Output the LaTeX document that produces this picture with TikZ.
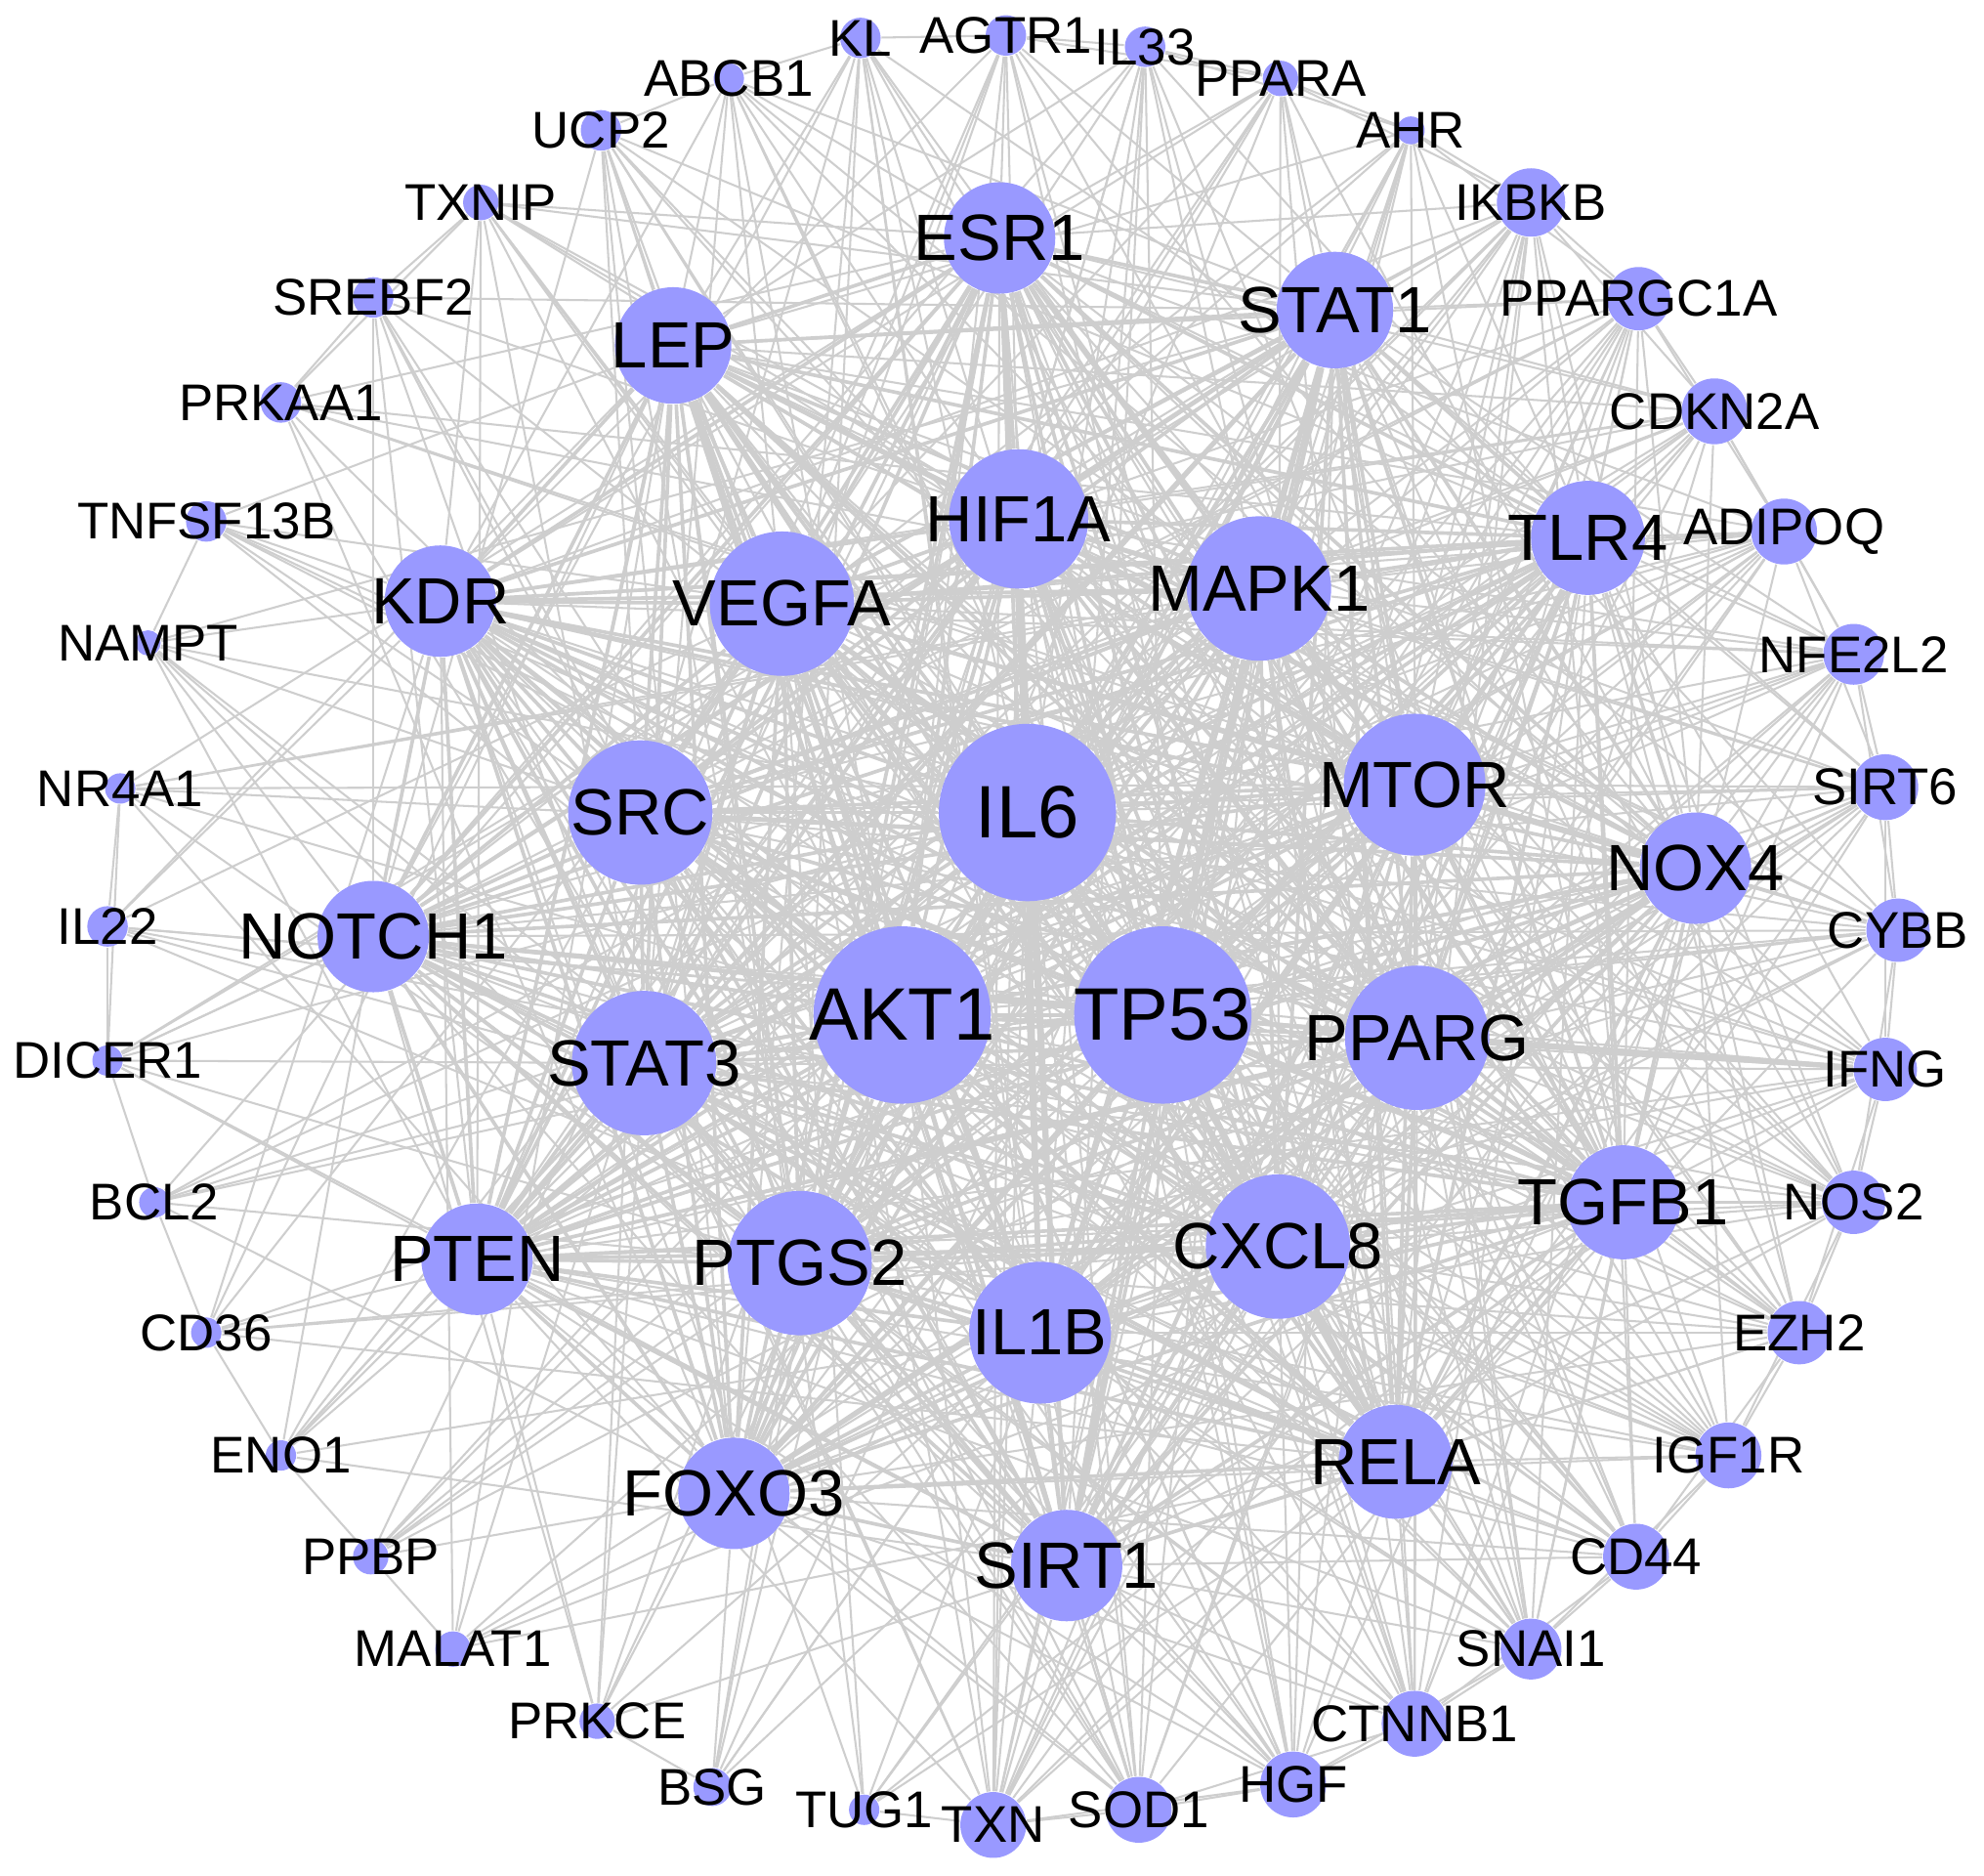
\documentclass[tikz,border=0pt]{standalone}
\usepackage{fontspec}
\setmainfont{Liberation Sans}
\definecolor{nodefill}{RGB}{153,153,255}
\definecolor{edgegray}{RGB}{206,206,206}
\pgfdeclarelayer{bg}
\pgfsetlayers{bg,main}
\begin{document}
\begin{tikzpicture}[x=0.01cm,y=-0.01cm,
  gnode/.style={circle,fill=nodefill,draw=none,inner sep=0pt},
  edge/.style={draw=edgegray,line width=0.45pt},
  hubedge/.style={draw=edgegray,line width=0.8pt},
  thickedge/.style={draw=edgegray,line width=1.2pt},
  lab/.style={text=black,inner sep=0pt}]
\useasboundingbox (0,0) rectangle (1568,1482);
% inner nodes
\foreach \n/\x/\y/\r in {IL6/812/642/70,AKT1/713/802/70,TP53/919/802/70,
  HIF1A/805/410/55,MAPK1/995/465/57,VEGFA/618/477/57,SRC/506/642/57,
  MTOR/1118/620/56,PPARG/1120/820/57,STAT3/509/840/57,PTGS2/632/998/57,
  CXCL8/1010/985/57,IL1B/822/1053/56,ESR1/790/188/44,LEP/532/273/46,
  STAT1/1055/245/46,TLR4/1255/425/45,KDR/348/475/44,NOTCH1/295/740/44,
  NOX4/1340/686/44,TGFB1/1283/950/45,PTEN/377/995/44,FOXO3/580/1180/44,
  RELA/1103/1155/45,SIRT1/843/1237/44}
  \node[gnode,minimum size=\r*0.02cm] (\n) at (\x,\y) {};
% outer nodes
\foreach \n/\x/\y/\r in {KL/680/30/16,AGTR1/795/28/16,IL33/905/37/16,
  PPARA/1012/62/14,AHR/1115/103/11,IKBKB/1210/160/27,PPARGC1A/1295/236/25,
  CDKN2A/1355/325/26,ADIPOQ/1410/420/26,NFE2L2/1465/517/24,SIRT6/1490/622/26,
  CYBB/1500/735/25,IFNG/1490/845/25,NOS2/1465/950/25,EZH2/1422/1053/25,
  IGF1R/1366/1150/26,CD44/1293/1230/26,SNAI1/1210/1303/24,CTNNB1/1118/1362/26,
  HGF/1022/1410/26,SOD1/900/1430/26,TXN/785/1442/26,TUG1/683/1430/12,
  BSG/563/1412/15,PRKCE/472/1360/14,MALAT1/358/1303/14,PPBP/293/1230/14,
  ENO1/222/1150/12,CD36/163/1053/12,BCL2/122/950/12,DICER1/85/838/12,
  IL22/85/732/16,NR4A1/95/623/12,NAMPT/117/508/10,TNFSF13B/163/412/16,
  PRKAA1/222/318/16,SREBF2/295/235/16,TXNIP/380/160/14,UCP2/475/103/16,
  ABCB1/576/62/12}
  \node[gnode,minimum size=\r*0.02cm] (\n) at (\x,\y) {};
\def\innerlist{IL6,AKT1,TP53,HIF1A,MAPK1,VEGFA,SRC,MTOR,PPARG,STAT3,PTGS2,CXCL8,IL1B,ESR1,LEP,STAT1,TLR4,KDR,NOTCH1,NOX4,TGFB1,PTEN,FOXO3,RELA,SIRT1}
\def\highlist{IKBKB,PPARGC1A,CDKN2A,ADIPOQ,NFE2L2,SIRT6,CYBB,IFNG,NOS2,EZH2,IGF1R,CD44,SNAI1,CTNNB1,HGF,SOD1,TXN}
\def\midlist{KL,AGTR1,IL33,PPARA,AHR,ABCB1,UCP2,TXNIP}
\def\lowlist{SREBF2,PRKAA1,TNFSF13B,NAMPT,NR4A1,IL22,DICER1,BCL2,CD36,ENO1,PPBP,MALAT1,PRKCE,BSG,TUG1}
\begin{pgfonlayer}{bg}
\fill[white] (0,0) rectangle (1568,1482);
% hub to hub
\foreach \a [count=\i] in \innerlist {
  \foreach \b [count=\j] in \innerlist {
    \ifnum\j>\i \draw[hubedge] (\a) -- (\b); \fi
  }
}
% high-degree outer nodes
\foreach \a [count=\i] in \highlist {
  \foreach \b [count=\j] in \innerlist {
    \pgfmathtruncatemacro\m{mod(\i*7+\j*3,4)}
    \ifnum\m>0 \draw[edge] (\a) -- (\b); \fi
  }
}
% mid-degree outer nodes
\foreach \a [count=\i] in \midlist {
  \foreach \b [count=\j] in \innerlist {
    \pgfmathtruncatemacro\m{mod(\i+\j,2)}
    \ifnum\m=0 \draw[edge] (\a) -- (\b); \fi
  }
}
% low-degree outer nodes
\foreach \a [count=\i] in \lowlist {
  \foreach \b [count=\j] in \innerlist {
    \pgfmathtruncatemacro\m{mod(\i*2+\j,3)}
    \ifnum\m=0 \draw[edge] (\a) -- (\b); \fi
  }
}
% outer ring links
\foreach \a/\b in {KL/AGTR1,AGTR1/IL33,IL33/PPARA,PPARA/AHR,AHR/IKBKB,
  IKBKB/PPARGC1A,PPARGC1A/CDKN2A,CDKN2A/ADIPOQ,ADIPOQ/NFE2L2,NFE2L2/SIRT6,
  SIRT6/CYBB,CYBB/IFNG,IFNG/NOS2,NOS2/EZH2,EZH2/IGF1R,IGF1R/CD44,CD44/SNAI1,
  SNAI1/CTNNB1,CTNNB1/HGF,HGF/SOD1,SOD1/TXN,TXN/TUG1,BSG/PRKCE,PPBP/MALAT1,
  ENO1/CD36,CD36/BCL2,BCL2/DICER1,DICER1/IL22,IL22/NR4A1,NAMPT/TNFSF13B,
  PRKAA1/SREBF2,SREBF2/TXNIP,UCP2/ABCB1,PPARA/IKBKB,AHR/PPARGC1A,
  IKBKB/CDKN2A,PPARGC1A/ADIPOQ,CDKN2A/NFE2L2,ADIPOQ/SIRT6,NFE2L2/CYBB,
  SIRT6/IFNG,CYBB/NOS2,IFNG/EZH2,NOS2/IGF1R,EZH2/CD44,IGF1R/SNAI1,
  CD44/CTNNB1,SNAI1/HGF,CTNNB1/SOD1,HGF/TXN,TXNIP/PRKAA1,NR4A1/DICER1,
  ENO1/PPBP,AGTR1/PPARA,IL33/AHR,KL/ABCB1}
  \draw[edge] (\a) -- (\b);
\draw[thickedge] (PPARG) -- (IFNG);
\draw[thickedge] (HIF1A) -- (IL1B);
\end{pgfonlayer}
% labels
\foreach \n in {IL6,AKT1,TP53}
  \node[lab,font=\fontsize{16.7}{18}\selectfont] (t\n) at (\n) {\n};
\foreach \n in {HIF1A,MAPK1,VEGFA,SRC,MTOR,PPARG,STAT3,PTGS2,CXCL8,IL1B,ESR1,LEP,STAT1,TLR4,KDR,NOTCH1,NOX4,TGFB1,PTEN,FOXO3,RELA,SIRT1}
  \node[lab,font=\fontsize{14.7}{16}\selectfont] (t\n) at (\n) {\n};
\foreach \n in {KL,AGTR1,IL33,PPARA,AHR,IKBKB,PPARGC1A,CDKN2A,ADIPOQ,NFE2L2,SIRT6,CYBB,IFNG,NOS2,EZH2,IGF1R,CD44,SNAI1,CTNNB1,HGF,SOD1,TXN,TUG1,BSG,PRKCE,MALAT1,PPBP,ENO1,CD36,BCL2,DICER1,IL22,NR4A1,NAMPT,TNFSF13B,PRKAA1,SREBF2,TXNIP,UCP2,ABCB1}
  \node[lab,font=\fontsize{11.6}{13}\selectfont] (t\n) at (\n) {\n};
\end{tikzpicture}
\end{document}
